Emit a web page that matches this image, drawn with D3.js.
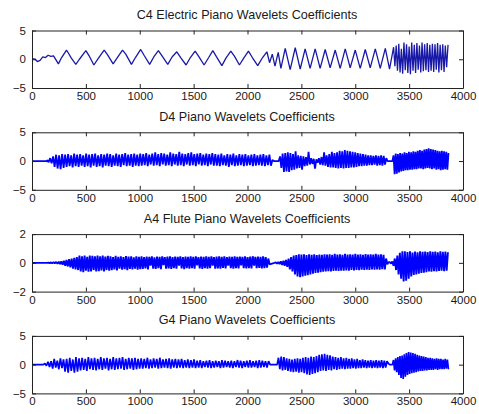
<!DOCTYPE html>
<html>
<head>
<meta charset="utf-8">
<script src="https://cdn.jsdelivr.net/npm/d3@7"></script>
<style>
  body { margin: 0; background: #fff; }
  svg { display: block; }
  .tick text { font-family: Arial, "Liberation Sans", sans-serif; font-size: 11.5px; fill: #1a1a1a; }
  .title { font-family: Arial, "Liberation Sans", sans-serif; font-size: 12.6px; fill: #1a1a1a; }
</style>
</head>
<body>
<svg id="chart" width="479" height="414"></svg>
<script>
// tick values
const xTicks = [0, 500, 1000, 1500, 2000, 2500, 3000, 3500, 4000];
const titles = [
  'C4 Electric Piano Wavelets Coefficients',
  'D4 Piano Wavelets Coefficients',
  'A4 Flute Piano Wavelets Coefficients',
  'G4 Piano Wavelets Coefficients',
];
const yRanges = [[-5, 5], [-5, 5], [-2, 2], [-5, 5]];

// C4: peaks and troughs, [x, y]
const c4Points = [
  [0, 0.1], [30, 0.0], [50, -0.4], [75, -0.2], [100, 0.4], [125, 0.3], [150, 0.7], [175, 0.5],
  [200, 0.6], [245, -0.8], [275, 0.3], [320, 1.6], [340, 1.0], [365, 0.2], [407, -0.9], [440, 0.0],
  [500, 1.5], [530, 0.6], [574, -1.0], [620, 0.3], [670, 1.6], [700, 0.8], [753, -0.8], [800, 0.5],
  [840, 1.6], [870, 0.9], [923, -0.9], [960, 0.3], [1009, 1.7], [1040, 0.7], [1092, -0.9], [1130, 0.4],
  [1173, 1.5], [1210, 0.5], [1260, -0.9], [1300, 0.4], [1344, 1.3], [1380, 0.3], [1430, -1.0], [1470, 0.3],
  [1514, 1.4], [1550, 0.4], [1597, -1.0], [1640, 0.3], [1678, 1.5], [1710, 0.5], [1762, -1.1], [1800, 0.2],
  [1845, 1.4], [1880, 0.5], [1925, -1.0], [1965, 0.2], [2009, 1.4], [2045, 0.3], [2095, -1.1], [2140, 0.3],
  [2180, 1.3], [2205, -0.6], [2230, 0.9], [2255, -1.2], [2285, 1.2], [2310, -1.6], [2350, 1.9], [2396, -1.8],
  [2443, 2.0], [2489, -1.7], [2535, 1.8], [2581, -1.6], [2628, 1.8], [2674, -1.6], [2721, 1.7], [2767, -1.5],
  [2814, 1.6], [2860, -1.6], [2907, 1.8], [2953, -1.5], [3000, 1.6], [3046, -1.6], [3093, 1.7], [3139, -1.5],
  [3186, 1.8], [3232, -1.6], [3279, 1.9], [3318, -1.7], [3356, 2.1], [3368, -1.2], [3380, 2.4], [3392, -2.0],
  [3404, 2.7], [3416, -2.3], [3428, 1.8], [3440, -2.5], [3452, 2.9], [3464, -1.9], [3476, 2.6], [3488, -2.4],
  [3500, 2.2], [3512, -2.6], [3524, 2.9], [3536, -2.0], [3548, 2.5], [3560, -2.4], [3572, 2.8], [3584, -1.8],
  [3596, 2.4], [3608, -2.3], [3620, 2.9], [3632, -2.1], [3644, 2.6], [3656, -1.9], [3668, 2.8], [3680, -2.2],
  [3692, 2.5], [3704, -2.0], [3716, 2.7], [3728, -2.2], [3740, 2.6], [3752, -1.8], [3764, 2.8], [3776, -2.3],
  [3788, 2.5], [3800, -1.9], [3812, 2.6], [3824, -2.2], [3836, 2.4], [3848, -1.4], [3861, 2.5],
];

// D4, A4, G4: runs of evenly spaced coefficients, {x0, x1, y}
const d4Runs = [
  { x0: 0, x1: 140, y: [0, 0] },
  { x0: 140, x1: 2245, y: [
    0.2, -0.2, 0.5, -0.4, 0.8, -1.0, 1.1, -1.3, 1.0, -1.4, 1.2, -1.2,
    1.1, -1.0, 1.2, -0.9, 1.0, -1.1, 1.3, -0.9, 1.1, -1.0, 1.2, -0.8, 1.0, -1.0, 1.3, -0.9, 1.1, -1.1, 1.2, -0.8,
    1.3, -1.0, 1.0, -0.9, 1.2, -1.1, 1.1, -0.8, 1.3, -0.9, 1.2, -1.0, 1.0, -0.8, 1.3, -0.9, 1.1, -1.0, 1.2, -0.7,
    1.4, -0.9, 1.1, -0.8, 1.2, -1.0, 1.3, -0.8, 1.1, -0.9,
    1.3, -0.8, 1.2, -0.7, 1.4, -0.9, 1.1, -0.6, 1.3, -0.8, 1.5, -0.7, 1.2, -0.9, 1.4, -0.6, 1.3, -0.8, 1.1, -0.7,
    1.5, -0.9, 1.3, -0.6, 1.2, -0.8, 1.6, -0.7, 1.3, -0.9, 1.2, -0.6, 1.4, -0.8, 1.5, -0.7, 1.2, -0.9, 1.3, -0.6,
    1.4, -0.8, 1.1, -0.7, 1.3, -0.9, 1.2, -0.6, 1.4, -0.8,
    1.2, -0.8, 1.1, -0.9, 1.3, -0.7, 1.0, -0.8, 1.2, -1.0, 1.1, -0.7, 1.3, -0.9, 1.0, -0.8, 1.2, -0.7, 1.1, -0.9,
    1.2, -0.8, 1.0, -0.7, 1.1, -0.9, 1.2, -0.8, 1.0, -0.7, 1.1, -0.8, 1.2, -0.9, 1.0, -0.7, 1.1, -0.8, 0.2, 0,
  ] },
  { x0: 2290, x1: 3300, y: [
    0, 0.8, -1.2, 1.3,
    -1.9, 1.4, -1.8, 1.5, -1.9, 1.4,
    -1.6, 1.2, -1.5, 1.7, -1.3, 1.0, -1.2, 0.9, -1.5, 0.8, -0.9, 0.7, -0.8, 1.6, -0.6, 0.5, -0.5, 0.4, -1.3, 0.3,
    -0.3, 0.5, -0.6, 0.7, -0.7, 1.5, -0.8, 1.0, -1.0, 1.2, -1.1, 1.6, -1.1, 1.4, -1.2, 1.5, -1.3, 1.8, -1.2, 1.7,
    -1.3, 1.9, -1.2, 1.8,
    -1.2, 1.7, -1.1, 1.6, -1.1, 1.5, -1.0, 1.4, -0.9, 1.3, -0.9, 1.2, -0.8, 1.1, -0.8, 1.0, -0.7, 1.0, -0.7, 0.9,
    -0.6, 1.0, -0.8, 0.9, -0.7, 1.0, -0.8, 0.9, -0.6, 0.5, 0,
  ] },
  { x0: 3345, x1: 3865, y: [
    0, 1.0, -2.3, 1.3, -2.2, 1.2, -2.0, 1.4, -1.8, 1.3, -1.7, 1.5, -1.6, 1.4, -1.6, 1.6, -1.5, 1.5, -1.5, 1.7,
    -1.4, 1.6, -1.4, 1.8, -1.3, 1.9, -1.3, 1.8, -1.4, 2.0, -1.3, 2.1, -1.2, 2.2, -1.3, 2.1, -1.4, 2.0, -1.3, 1.9,
    -1.5, 1.8, -1.4, 1.7, -1.6, 1.8, -1.5, 1.7, -1.4, 1.6, -1.5, 1.4,
  ] },
];

const a4Runs = [
  { x0: 0, x1: 130, y: [0, 0] },
  { x0: 140, x1: 2205, y: [
    0, 0.02, -0.02, 0.03, -0.03, 0.05, -0.04, 0.06, -0.06, 0.08, -0.08,
    0.1, -0.12, 0.15, -0.2, 0.2, -0.25, 0.25, -0.32, 0.3, -0.4, 0.35, -0.45,
    0.4, -0.5, 0.5, -0.6, 0.45, -0.65, 0.5, -0.55, 0.42, -0.62, 0.5, -0.6, 0.48, -0.5, 0.45, -0.6, 0.5, -0.58,
    0.46, -0.52, 0.5, -0.6, 0.44, -0.5, 0.48, -0.55,
    0.45, -0.5, 0.4, -0.45, 0.48, -0.52, 0.42, -0.4, 0.45, -0.48, 0.4, -0.44, 0.47, -0.5, 0.43, -0.42, 0.45, -0.46,
    0.38, -0.4, 0.46, -0.48, 0.42, -0.43,
    0.45, -0.42, 0.4, -0.38, 0.44, -0.45, 0.42, -0.2, 0.45, -0.4, 0.38, -0.42, 0.44, -0.36, 0.41, -0.44, 0.45, -0.15,
    0.4, -0.4, 0.43, -0.38, 0.46, -0.42, 0.4, -0.36, 0.44, -0.41, 0.42, -0.2, 0.45, -0.38, 0.4, -0.43, 0.44, -0.37,
    0.41, -0.4, 0.46, -0.36, 0.42, -0.41, 0.45, -0.18, 0.4, -0.38, 0.44, -0.42, 0.42, -0.36, 0.46, -0.4, 0.41, -0.37,
    0.45, -0.2, 0.4, -0.41, 0.43, -0.38, 0.45, -0.4, 0.42, -0.35, 0.46, -0.39, 0.4, -0.2, 0.44, -0.37, 0.42, -0.4,
    0.45, -0.36, 0.41, -0.38, 0.44, -0.18, 0.42, -0.37, 0.45, -0.39, 0.4, -0.36, 0.43, -0.38, 0.46, -0.2, 0.41, -0.37,
    0.44, -0.35, 0.42, -0.38, 0.45, -0.36, 0.4, -0.34, 0.3, -0.1,
  ] },
  { x0: 2250, x1: 3310, y: [
    0, 0.03, -0.05, 0.06, -0.08, 0.1, -0.15, 0.15, -0.2, 0.2, -0.28,
    0.3, -0.45, 0.4, -0.6, 0.5, -0.8, 0.55, -0.95, 0.6, -1.0, 0.58, -0.95, 0.6, -0.9,
    0.55, -0.85, 0.6, -0.8, 0.56, -0.75, 0.6, -0.7, 0.55, -0.68, 0.58, -0.65,
    0.55, -0.62, 0.6, -0.6, 0.57, -0.58, 0.6, -0.6, 0.55, -0.57, 0.62, -0.55, 0.58, -0.56, 0.6, -0.54, 0.56, -0.55,
    0.62, -0.52, 0.58, -0.54, 0.6, -0.5, 0.57, -0.52, 0.62, -0.5, 0.58, -0.51, 0.6, -0.48, 0.56, -0.5, 0.61, -0.47,
    0.58, -0.49, 0.6, -0.46, 0.57, -0.48, 0.62, -0.45, 0.58, -0.47, 0.6, -0.44, 0.55, -0.46, 0.3, -0.1, 0.05,
  ] },
  { x0: 3320, x1: 3860, y: [
    0.05, -0.05, 0.1, -0.2, 0.3, -0.5, 0.5, -0.8, 0.7, -1.1, 0.8, -1.3, 0.8, -1.25, 0.75, -1.1, 0.8, -0.95,
    0.72, -0.85, 0.78, -0.8, 0.74, -0.75, 0.8, -0.7, 0.76, -0.68, 0.78, -0.65, 0.75, -0.6, 0.8, -0.62, 0.76, -0.58,
    0.78, -0.6, 0.74, -0.56, 0.8, -0.55, 0.76, -0.58, 0.78, -0.55, 0.74,
  ] },
];

const g4Runs = [
  { x0: 0, x1: 100, y: [0, 0] },
  { x0: 105, x1: 2210, y: [
    0, 0.2, -0.2,
    0.5, -0.4, 0.6, -0.7, 1.0, -0.5, 0.7, -0.8, 1.1, -0.6,
    0.9, -1.2, 1.0, -1.4, 1.2, -1.1, 0.9, -1.4, 1.3, -1.2, 1.1, -1.0,
    1.2, -0.9, 1.0, -1.1, 1.3, -0.8, 1.1, -0.9, 1.2, -1.0, 1.0, -0.8, 1.3, -0.9, 1.1, -0.7, 1.2, -1.0, 1.0, -0.8,
    1.3, -0.9, 1.1, -0.8, 1.2, -0.7, 1.3, -0.9, 1.0, -0.8, 1.2, -0.7, 1.1, -0.9, 1.2, -0.8, 1.0, -0.7,
    1.1, -0.7, 1.0, -0.6, 1.2, -0.7, 0.9, -0.6, 1.1, -0.5, 1.0, -0.7, 1.2, -0.6, 0.9, -0.5, 1.0, -0.6, 1.1, -0.7,
    0.9, -0.5, 1.0, -0.6, 0.9, -0.5, 1.0, -0.6, 0.8, -0.5, 0.9, -0.6, 0.8, -0.5, 0.9, -0.6,
    0.7, -0.5, 0.8, -0.6, 0.6, -0.4, 0.7, -0.5, 0.8, -0.6, 0.6, -0.5, 0.7, -0.4, 0.6, -0.6, 0.8, -0.5, 0.7, -0.4,
    0.6, -0.5, 0.7, -0.6, 0.6, -0.4, 0.8, -0.5, 0.7, -0.6, 0.6, -0.4, 0.7, -0.5, 0.8, -0.5, 0.6, -0.4, 0.7, -0.6,
    0.8, -0.5, 0.7, -0.4, 0.6, -0.5, 0.6, 0,
  ] },
  { x0: 2275, x1: 3320, y: [
    0, 1.2, -0.8, 1.4, -1.0, 1.3, -0.9, 1.1, -1.1, 1.0, -1.2, 0.9, -1.3, 1.0, -1.2, 1.1, -1.4, 1.0, -1.3, 1.2,
    -1.5, 1.3, -1.7, 1.2, -1.8, 1.4, -1.6, 1.3, -1.5, 1.5, -1.3, 1.7, -1.1, 1.8, -1.0, 1.9, -1.1, 1.7, -0.9, 1.6,
    -1.0, 1.4, -0.8, 1.3, -0.9, 1.2, -0.8, 1.3, -0.7, 1.1, -0.8, 1.2, -0.7, 1.0, -0.7, 1.1, -0.6, 0.9, -0.7, 1.0,
    -0.6, 0.8, -0.6, 0.9, -0.5, 0.8, -0.6, 0.7, -0.5, 0.8, -0.6, 0.7, -0.5, 0.8, -0.6, 0.7, -0.5, 0.8, -0.6, 0.7,
    -0.5, 0.6, 0.2, 0,
  ] },
  { x0: 3345, x1: 3865, y: [
    0, 0.8, -1.0, 1.1, -1.3, 1.3, -1.8, 1.5, -2.3, 1.6, -2.5, 1.8, -2.1, 2.0, -1.8, 2.2, -1.6, 2.1, -1.5, 2.0,
    -1.4, 1.9, -1.3, 1.7, -1.2, 1.6, -1.1, 1.5, -1.1, 1.4, -1.0, 1.3, -1.0, 1.2, -0.9, 1.2, -0.9, 1.1, -0.9, 1.0,
    -0.8, 1.1, -0.9, 1.0, -0.8, 1.0, -0.8, 0.9, -0.8, 1.0, -0.7, 0.9, -0.8,
  ] },
];

function runsToPoints(runs) {
  const pts = [];
  runs.forEach((r) => {
    const n = r.y.length;
    r.y.forEach((v, i) => pts.push([r.x0 + (r.x1 - r.x0) * i / (n - 1), v]));
  });
  return pts;
}

const series = [c4Points, runsToPoints(d4Runs), runsToPoints(a4Runs), runsToPoints(g4Runs)];
const lineColors = ['#1818a8', '#0000ff', '#0000ff', '#0000ff'];
const lineWidths = [1.3, 1.8, 1.9, 1.7];

const svg = d3.select('#chart');
const left = 32;
const right = 463;
const firstTop = 30.5;
const panelStep = 101.8;
const panelHeight = 57.5;

const x = d3.scaleLinear().domain([0, 4000]).range([left, right]);

series.forEach((pts, k) => {
  const top = firstTop + k * panelStep;
  const bottom = top + panelHeight;
  const y = d3.scaleLinear().domain(yRanges[k]).range([bottom, top]);
  const yTicks = [yRanges[k][0], 0, yRanges[k][1]];

  const g = svg.append('g');

  g.append('path')
    .datum(pts)
    .attr('fill', 'none')
    .attr('stroke', lineColors[k])
    .attr('stroke-width', lineWidths[k])
    .attr('stroke-linejoin', 'bevel')
    .attr('d', d3.line().x((d) => x(d[0])).y((d) => y(d[1])));

  const axes = [
    [d3.axisBottom(x).tickValues(xTicks).tickFormat(d3.format('d')).tickPadding(3.8), `translate(0,${bottom})`],
    [d3.axisTop(x).tickValues(xTicks).tickFormat(''), `translate(0,${top})`],
    [d3.axisLeft(y).tickValues(yTicks).tickFormat(d3.format('d')).tickPadding(6), `translate(${left},0)`],
    [d3.axisRight(y).tickValues(yTicks).tickFormat(''), `translate(${right},0)`],
  ];
  axes.forEach(([axis, tr]) => {
    const a = g.append('g')
      .attr('transform', tr)
      .call(axis.tickSize(-4).tickSizeOuter(0));
    a.select('.domain').attr('stroke', '#222');
    a.selectAll('.tick line').attr('stroke', '#222');
  });

  g.append('text')
    .attr('class', 'title')
    .attr('x', 247)
    .attr('y', top - 11.5)
    .attr('text-anchor', 'middle')
    .text(titles[k]);
});
</script>
</body>
</html>
